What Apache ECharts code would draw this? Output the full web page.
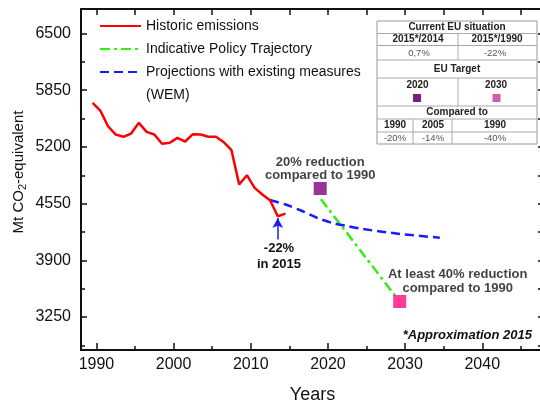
<!DOCTYPE html>
<html><head><meta charset="utf-8">
<script src="https://cdn.jsdelivr.net/npm/echarts@6/dist/echarts.min.js"></script>
<style>html,body{margin:0;padding:0;background:#fff}#c{width:540px;height:403px}</style>
</head><body><div id="c"></div>
<script>
// ---------- data ----------
const histYears = [1990,1991,1992,1993,1994,1995,1996,1997,1998,1999,2000,2001,2002,2003,2004,2005,2006,2007,2008,2009,2010,2011,2012,2013,2014,2015];
const histValues = [5706,5617,5437,5342,5316,5354,5476,5373,5342,5236,5247,5304,5262,5346,5342,5316,5316,5254,5162,4769,4876,4731,4654,4589,4405,4436];
const wemYears = [2013,2015,2017,2019,2021,2023,2025,2030,2035];
const wemValues = [4591,4540,4471,4391,4330,4293,4259,4201,4159];
const policyYears = [2019.6,2029.2];
const policyValues = [4600,3495];
const target2020 = [2019.5,4723];
const target2030 = [2029.8,3428];
const arrowFrom = [2014,4140];
const arrowTo = [2014,4385];
const xTickLabels = [1990,2000,2010,2020,2030,2040];
const xMinorTicks = [1995,2005,2015,2025,2035,2045];
const xTopTicks = [1990,1995,2000,2005,2010,2015,2020,2025,2030,2035,2040,2045];
const yTickLabels = [3250,3900,4550,5200,5850,6500];
const yMinorTicks = [2925,3575,4225,4875,5525,6175];
const seriesNames = ['Historic emissions','Indicative Policy Trajectory','Projections with existing measures'];
const tableTitle = 'Current EU situation';
const ratioHeads = ['2015*/2014','2015*/1990'];
const ratioVals = ['0,7%','-22%'];
const targetTitle = 'EU Target';
const targetYears = ['2020','2030'];
const compTitle = 'Compared to';
const compHeads = ['1990','2005','1990'];
const compVals = ['-20%','-14%','-40%'];

const FONT = '"Liberation Sans", Arial, sans-serif';
const AX = '#111';
const YMIN = 2872, YMAX = 6781;
const plain = v => String(v);

const chart = echarts.init(document.getElementById('c'), null, {renderer:'canvas'});

// ---------- table graphic ----------
const tb = [];
const TX = 377, TW = 160;
const rowsY = [21, 33.5, 45.5, 60, 78, 106, 119, 132, 144];
tb.push({type:'rect', shape:{x:TX, y:rowsY[0], width:TW, height:rowsY[8]-rowsY[0]}, style:{fill:'#fff', stroke:'#999', lineWidth:1}, z:10});
for (let i=1;i<8;i++) tb.push({type:'line', shape:{x1:TX, y1:rowsY[i], x2:TX+TW, y2:rowsY[i]}, style:{stroke:'#aaa', lineWidth:1}, z:11});
const vl = (x,y1,y2)=>tb.push({type:'line', shape:{x1:x,y1:y1,x2:x,y2:y2}, style:{stroke:'#aaa', lineWidth:1}, z:11});
vl(458, rowsY[1], rowsY[3]); vl(458, rowsY[4], rowsY[5]);
vl(413, rowsY[6], rowsY[8]); vl(452, rowsY[6], rowsY[8]);
const tt = (s,x,y,bold)=>tb.push({type:'text', x:x, y:y, z:12, style:{text:s, x:0, y:0, align:'center', verticalAlign:'middle', font:(bold?'bold 10px ':'9.5px ')+FONT, fill:bold?'#222':'#555'}});
tt(tableTitle, 457, 27.3, true);
tt(ratioHeads[0], 418, 39.5, true); tt(ratioHeads[1], 497, 39.5, true);
tt(ratioVals[0], 419, 53, false); tt(ratioVals[1], 495, 53, false);
tt(targetTitle, 457, 69, true);
tt(targetYears[0], 417.5, 85, true); tt(targetYears[1], 496, 85, true);
tb.push({type:'rect', shape:{x:413, y:94, width:8, height:8}, style:{fill:'#7a1f7a'}, z:12});
tb.push({type:'rect', shape:{x:492.5, y:94, width:8, height:8}, style:{fill:'#d15cb4'}, z:12});
tt(compTitle, 457, 112.5, true);
tt(compHeads[0], 395, 125.5, true); tt(compHeads[1], 433, 125.5, true); tt(compHeads[2], 495, 125.5, true);
tt(compVals[0], 395, 138, false); tt(compVals[1], 433, 138, false); tt(compVals[2], 495, 138, false);

const texts = [
  {type:'text', x:146, y:95, style:{text:'(WEM)', x:0, y:0, align:'left', verticalAlign:'middle', font:'14px '+FONT, fill:'#111'}},
  {type:'text', x:279, y:256, style:{text:'-22%\nin 2015', x:0, y:0, align:'center', verticalAlign:'middle', font:'bold 13px '+FONT, lineHeight:16, fill:'#111'}},
  {type:'text', x:532, y:335, style:{text:'*Approximation 2015', x:0, y:0, align:'right', verticalAlign:'middle', font:'italic bold 13px '+FONT, fill:'#111'}}
];

const baseY = {type:'value', min:YMIN, max:YMAX, splitLine:{show:false}};
const baseX = {type:'value', min:1988, max:2048, splitLine:{show:false}};

chart.setOption({
  animation:false,
  backgroundColor:'#fff',
  textStyle:{fontFamily:FONT},
  grid:{left:81, right:-4, top:9, bottom:53, containLabel:false, outerBoundsMode:'none'},
  legend:{
    orient:'vertical', left:99, top:19, padding:0, itemWidth:41, itemHeight:14, itemGap:9,
    itemStyle:{opacity:0},
    textStyle:{fontSize:14, color:'#111', fontFamily:FONT},
    data:seriesNames
  },
  xAxis:[
    Object.assign({}, baseX, {position:'bottom',
      axisLine:{onZero:false, lineStyle:{color:AX, width:2}},
      axisTick:{inside:true, length:7, customValues:xTickLabels, lineStyle:{color:AX, width:1.5}},
      axisLabel:{customValues:xTickLabels, formatter:plain, fontSize:16, color:'#111', margin:7, fontFamily:FONT},
      name:'Years', nameLocation:'middle', nameGap:36,
      nameTextStyle:{fontSize:18, color:'#111', fontFamily:FONT}}),
    Object.assign({}, baseX, {position:'bottom',
      axisLine:{show:false},
      axisTick:{inside:true, length:4, customValues:xMinorTicks, lineStyle:{color:AX, width:1.5}},
      axisLabel:{show:false}}),
    Object.assign({}, baseX, {position:'top',
      axisLine:{onZero:false, lineStyle:{color:AX, width:2}},
      axisTick:{inside:true, length:6, customValues:xTopTicks, lineStyle:{color:AX, width:1.5}},
      axisLabel:{show:false}}),
    {type:'value', min:1988.5, max:2048.5, show:false, position:'bottom', splitLine:{show:false}}
  ],
  yAxis:[
    Object.assign({}, baseY, {position:'left',
      axisLine:{show:true, onZero:false, lineStyle:{color:AX, width:2}},
      axisTick:{show:true, inside:true, length:6, customValues:yTickLabels, lineStyle:{color:AX, width:1.5}},
      axisLabel:{customValues:yTickLabels, formatter:plain, fontSize:16, color:'#111', margin:10, fontFamily:FONT},
      name:'Mt CO{s|2}-equivalent', nameLocation:'middle', nameGap:53, nameRotate:90, nameMoveOverlap:false,
      nameTextStyle:{fontSize:15, color:'#111', fontFamily:FONT, padding:[0,0,0,15],
        rich:{s:{fontSize:11, color:'#111', fontFamily:FONT, verticalAlign:'bottom', padding:[8,0,0,0]}}}}),
    Object.assign({}, baseY, {position:'left',
      axisLine:{show:false},
      axisTick:{show:true, inside:true, length:4, customValues:yMinorTicks, lineStyle:{color:AX, width:1.5}},
      axisLabel:{show:false}}),
    Object.assign({}, baseY, {position:'right',
      axisLine:{show:true, onZero:false, lineStyle:{color:AX, width:2}},
      axisTick:{show:true, inside:true, length:6, customValues:yTickLabels.concat(yMinorTicks), lineStyle:{color:AX, width:1.5}},
      axisLabel:{show:false}})
  ],
  graphic: tb.concat(texts),
  series:[
    {name:seriesNames[0], type:'line', xAxisIndex:3, yAxisIndex:0, symbol:'none',
     data:histYears.map((y,i)=>[y,histValues[i]]),
     lineStyle:{color:'#ff0000', width:2.5}, itemStyle:{color:'#ff0000'}, z:5,
     markLine:{silent:true, symbol:['none','arrow'], symbolSize:[8,10], label:{show:false},
       lineStyle:{color:'#1a1aff', width:1.5, type:'solid'},
       data:[[{coord:arrowFrom},{coord:arrowTo}]]}},
    {name:seriesNames[1], type:'line', xAxisIndex:3, yAxisIndex:0, symbol:'none',
     data:policyYears.map((y,i)=>[y,policyValues[i]]),
     lineStyle:{color:'#33ee11', width:2.5, type:[10,4,3,4]}, itemStyle:{color:'#33ee11'}, z:4},
    {name:seriesNames[2], type:'line', xAxisIndex:3, yAxisIndex:0, symbol:'none', smooth:0.3,
     data:wemYears.map((y,i)=>[y,wemValues[i]]),
     lineStyle:{color:'#1a1aff', width:2.5, type:[9,5]}, itemStyle:{color:'#1a1aff'}, z:4},
    {name:'Target 2020', type:'scatter', xAxisIndex:3, yAxisIndex:0, symbol:'rect', symbolSize:13,
     data:[target2020], itemStyle:{color:'#800080'}, z:6,
     label:{show:true, position:'top', distance:0, formatter:'20% reduction\ncompared to 1990', fontSize:13, fontWeight:'bold', color:'#111', lineHeight:13, fontFamily:FONT}},
    {name:'Target 2030', type:'scatter', xAxisIndex:3, yAxisIndex:0, symbol:'rect', symbolSize:13,
     data:[target2030], itemStyle:{color:'#ff0d80'}, z:6,
     label:{show:true, position:'top', distance:0, offset:[58,0], formatter:'At least 40% reduction\ncompared to 1990', fontSize:13, fontWeight:'bold', color:'#111', lineHeight:14, fontFamily:FONT}}
  ]
});
</script></body></html>
